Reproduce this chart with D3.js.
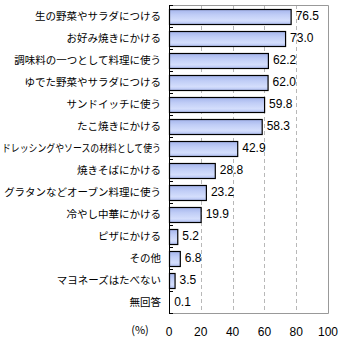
<!DOCTYPE html>
<html><head><meta charset="utf-8">
<script src="https://cdn.jsdelivr.net/npm/d3@7"></script>
<style>body{margin:0;background:#fff}</style>
</head><body>
<svg id="c" width="340" height="340"></svg>
<script>
const categories = ["生の野菜やサラダにつける","お好み焼きにかける","調味料の一つとして料理に使う","ゆでた野菜やサラダにつける","サンドイッチに使う","たこ焼きにかける","ドレッシングやソースの材料として使う","焼きそばにかける","グラタンなどオーブン料理に使う","冷やし中華にかける","ピザにかける","その他","マヨネーズはたべない","無回答"];
const values = [76.5,73.0,62.2,62.0,59.8,58.3,42.9,28.8,23.2,19.9,5.2,6.8,3.5,0.1];
const xTicks = [0,20,40,60,80,100];
const unitLabel = "(%)";

const svg = d3.select("#c");
const L=169, R=328, T=5, B=313;
const x = d3.scaleLinear().domain([0,100]).range([L,R]);
const y = d3.scaleBand().domain(categories).range([T,B]).paddingInner(0.34).paddingOuter(0.17);
const band = d3.scaleBand().domain(categories).range([T,B]);

const defs = svg.append("defs");
const g = defs.append("linearGradient").attr("id","bg").attr("x1",0).attr("y1",0).attr("x2",0).attr("y2",1);
g.append("stop").attr("offset","0%").attr("stop-color","#a4b4ec");
g.append("stop").attr("offset","35%").attr("stop-color","#c0cdf6");
g.append("stop").attr("offset","75%").attr("stop-color","#d4defc");
g.append("stop").attr("offset","100%").attr("stop-color","#b0bff2");

// grid lines
svg.append("g").selectAll("line").data(xTicks.filter(t=>t>0&&t<100)).join("line")
  .attr("x1",d=>Math.round(x(d))+0.5).attr("x2",d=>Math.round(x(d))+0.5)
  .attr("y1",T).attr("y2",B).attr("stroke","#b8b8b8").attr("stroke-dasharray","4,3");
// frame
svg.append("path").attr("d",`M${L},${T+0.5}H${R+0.5}V${B+0.5}H${L}`).attr("fill","none").attr("stroke","#999");

// bars
svg.append("g").selectAll("rect").data(values).join("rect")
  .attr("x",x(0)+0.5).attr("y",(d,i)=>Math.round(y(categories[i]))+0.5)
  .attr("width",d=>Math.max(0,x(d)-x(0)))
  .attr("height",Math.round(y.bandwidth()))
  .attr("fill","url(#bg)").attr("stroke","#000").attr("stroke-width",1.2)
  .attr("display",d=>x(d)-x(0)<1?"none":null);

// y axis
svg.append("line").attr("x1",L+0.5).attr("x2",L+0.5).attr("y1",T).attr("y2",B+1).attr("stroke","#000");
svg.append("g").selectAll("line").data(d3.range(categories.length+1)).join("line")
  .attr("x1",L).attr("x2",L+4).attr("y1",i=>Math.round(T+band.step()*i)+0.5).attr("y2",i=>Math.round(T+band.step()*i)+0.5)
  .attr("stroke","#000");

// category labels
const maxW = L-10;
svg.append("g").selectAll("text").data(categories).join("text")
  .attr("x",L-8).attr("y",d=>band(d)+band.bandwidth()/2).attr("dy","0.36em")
  .attr("text-anchor","end").attr("font-family","'Noto Sans CJK JP'").attr("font-size",10.5)
  .attr("fill","#000").text(d=>d)
  .each(function(){ if(this.getComputedTextLength()>maxW){ d3.select(this).attr("textLength",maxW).attr("lengthAdjust","spacingAndGlyphs"); } });

// value labels
svg.append("g").selectAll("text").data(values).join("text")
  .attr("x",d=>x(d)+5).attr("y",(d,i)=>band(categories[i])+band.bandwidth()/2).attr("dy","0.36em")
  .attr("font-family","'Liberation Sans',Arial").attr("font-size",12).attr("fill","#000")
  .text(d=>d.toFixed(1));

// x tick labels
svg.append("g").selectAll("text").data(xTicks).join("text")
  .attr("x",d=>x(d)).attr("y",336).attr("text-anchor","middle")
  .attr("font-family","'Liberation Sans',Arial").attr("font-size",12).attr("fill","#000").text(d=>d);
svg.append("text").attr("x",140).attr("y",334).attr("text-anchor","middle")
  .attr("font-family","'Noto Sans CJK JP'").attr("font-size",11).attr("fill","#000").text(unitLabel);
</script>
</body></html>
